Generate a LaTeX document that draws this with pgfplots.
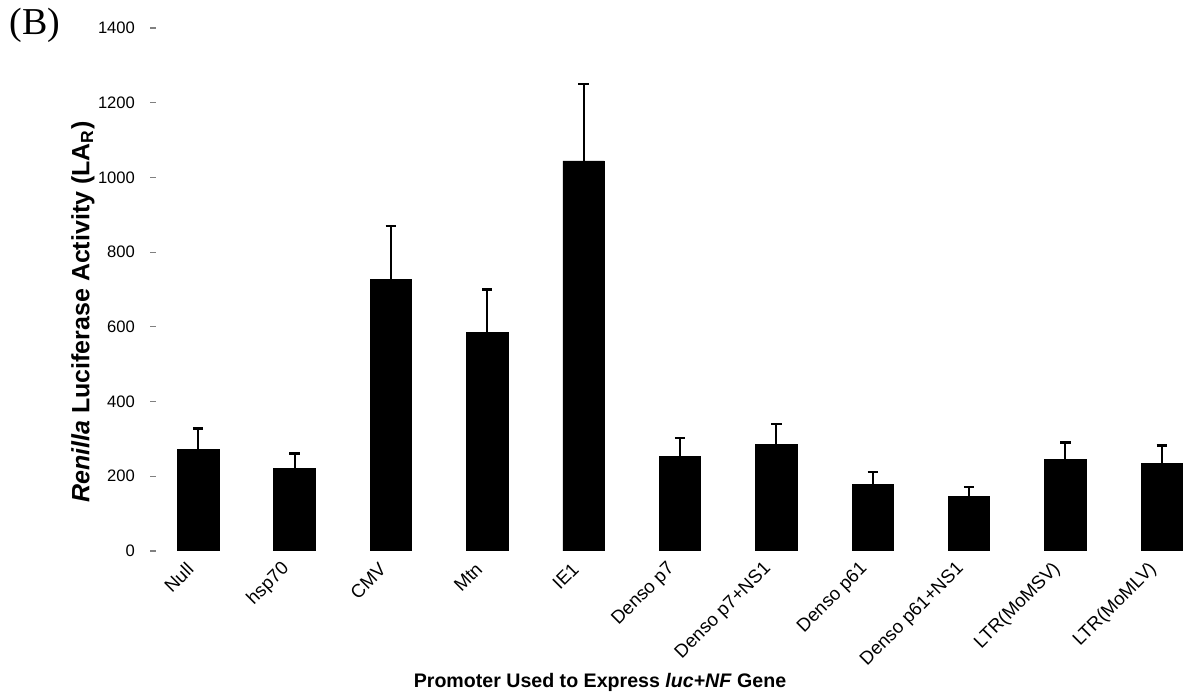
\documentclass[border=0pt]{standalone}
\usepackage{pgfplots}
\pgfplotsset{compat=1.18}
\usepackage{fontspec}
\setmainfont{Liberation Sans}
\newfontfamily\seriffont{Liberation Serif}

\begin{document}
\begin{tikzpicture}[x=1pt,y=1pt]
\useasboundingbox (0,0) rectangle (600,350);
\begin{axis}[
  at={(75pt,74.5pt)}, anchor=south west,
  scale only axis, width=530pt, height=261.5pt,
  xmin=-0.5, xmax=10.5, ymin=0, ymax=1400,
  axis line style={draw=none},
  ytick={0,200,...,1400},
  xtick={0,...,10},
  xticklabels={Null,hsp70,CMV,Mtn,IE1,Denso p7,Denso p7+NS1,Denso p61,Denso p61+NS1,LTR(MoMSV),LTR(MoMLV)},
  % shifts are given in the rotated frame of the label
  x tick label style={rotate=45, anchor=east, font=\fontsize{9.3}{10}\selectfont, inner sep=0pt, xshift=-8.1pt, yshift=-2.5pt},
  y tick label style={font=\fontsize{8.3}{9}\selectfont},
  /pgf/number format/assume math mode=true,
  /pgf/number format/1000 sep={},
  major tick length=3pt,
  tick style={gray, line width=0.6pt},
  xtick style={draw=none},
  ytick pos=left,
  yticklabel style={xshift=-4pt},
]
\addplot[ybar, bar width=0.43, fill=black, draw=black,
  error bars/.cd, y dir=plus, y explicit,
  error bar style={line width=1pt, black},
  error mark options={line width=1.2pt, mark size=2.6pt, rotate=90}]
  table[x=x, y=y, y error=e] {
x y e
0 273 55
1 221 40
2 727 143
3 584 116
4 1044 206
5 252 51
6 284 56
7 178 34
8 145 27
9 244 46
10 235 47
};
\end{axis}
\node[font=\seriffont\fontsize{19}{21}\selectfont] at (17.5,337.5) {(B)};
\node[rotate=90, font=\bfseries\fontsize{12.5}{14}\selectfont] at (41.5,194) {\textit{Renilla} Luciferase Activity (LA\textsubscript{R})};
\node[font=\bfseries\fontsize{9.8}{11}\selectfont] at (300,9) {Promoter Used to Express \textit{luc+NF} Gene};
\end{tikzpicture}
\end{document}
